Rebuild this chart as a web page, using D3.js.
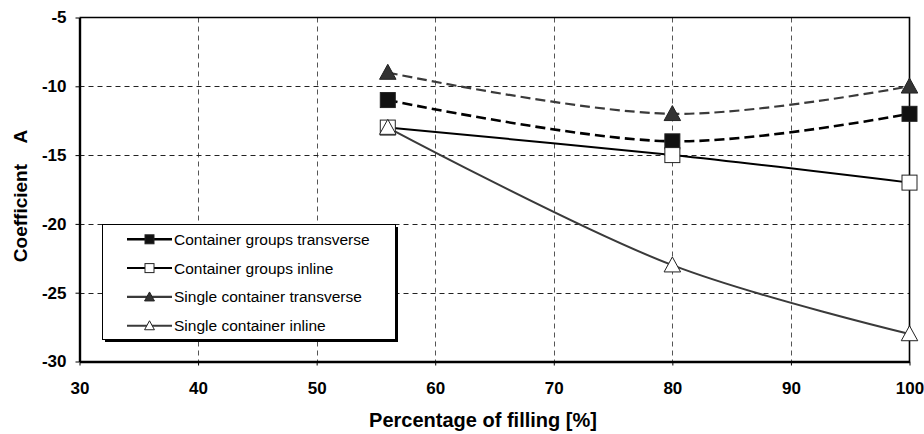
<!DOCTYPE html>
<html>
<head>
<meta charset="utf-8">
<script src="https://cdn.jsdelivr.net/npm/d3@7"></script>
<style>
  html, body { margin: 0; padding: 0; background: #fff; }
  svg { display: block; font-family: "Liberation Sans", Arial, sans-serif; }
</style>
</head>
<body>
<svg id="chart" width="924" height="434"></svg>
<script>
// Filling level (x) and coefficient A for each configuration
const filling = [56, 80, 100];
const groupsTransverse = [-11, -14, -12];
const groupsInline = [-13, -15, -17];
const singleTransverse = [-9, -12, -10];
const singleInline = [-13, -23, -28];

const seriesNames = [
  "Container groups transverse",
  "Container groups inline",
  "Single container transverse",
  "Single container inline"
];

const xTicks = [30, 40, 50, 60, 70, 80, 90, 100];
const yTicks = [-30, -25, -20, -15, -10, -5];

const series = [
  { name: seriesNames[0], values: groupsTransverse, color: "#000", stroke: 2.6, dash: "10,5", marker: "square", fill: "#111" },
  { name: seriesNames[1], values: groupsInline, color: "#000", stroke: 2, dash: null, marker: "square", fill: "#fff" },
  { name: seriesNames[2], values: singleTransverse, color: "#3a3a3a", stroke: 2.2, dash: "10,5", marker: "triangle", fill: "#333" },
  { name: seriesNames[3], values: singleInline, color: "#3a3a3a", stroke: 2, dash: null, marker: "triangle", fill: "#fff" }
];

const svg = d3.select("#chart");
const plot = { left: 79.5, top: 17.5, right: 909.5, bottom: 361.5 };

const x = d3.scaleLinear().domain([30, 100]).range([plot.left, plot.right]);
const y = d3.scaleLinear().domain([-30, -5]).range([plot.bottom, plot.top]);

// Grid lines
const grid = svg.append("g");
grid.selectAll("line.v")
  .data(xTicks.filter(t => t > 30 && t < 100))
  .join("line")
  .attr("x1", d => Math.round(x(d)) + 0.5).attr("x2", d => Math.round(x(d)) + 0.5)
  .attr("y1", plot.top).attr("y2", plot.bottom)
  .attr("stroke", "#555").attr("stroke-width", 1).attr("stroke-dasharray", "5,4");
grid.selectAll("line.h")
  .data(yTicks.filter(t => t > -30 && t < -5))
  .join("line")
  .attr("x1", plot.left).attr("x2", plot.right)
  .attr("y1", d => Math.round(y(d)) + 0.5).attr("y2", d => Math.round(y(d)) + 0.5)
  .attr("stroke", "#222").attr("stroke-width", 1).attr("stroke-dasharray", "5,4");

// Plot frame (top and right)
svg.append("path")
  .attr("d", `M${plot.left},${plot.top}H${plot.right}V${plot.bottom}`)
  .attr("fill", "none").attr("stroke", "#000").attr("stroke-width", 1.6);

// Axes
const fmt = d => String(d);
const xAxis = d3.axisBottom(x).tickValues(xTicks).tickFormat(fmt).tickSize(4).tickSizeOuter(0).tickPadding(16);
const yAxis = d3.axisLeft(y).tickValues(yTicks).tickFormat(fmt).tickSize(4).tickSizeOuter(0).tickPadding(9);

const gx = svg.append("g").attr("transform", `translate(0,${plot.bottom})`).call(xAxis);
const gy = svg.append("g").attr("transform", `translate(${plot.left},0)`).call(yAxis);

[gx, gy].forEach(g => {
  g.select(".domain").attr("stroke", "#000").attr("stroke-width", 2.4);
  g.selectAll(".tick line").attr("stroke", "#000").attr("stroke-width", 1);
  g.selectAll(".tick text")
    .attr("fill", "#000")
    .style("font-family", "'Liberation Sans', Arial, sans-serif")
    .style("font-size", "17px").style("font-weight", "bold");
});

// Axis titles
svg.append("text")
  .attr("x", 483).attr("y", 427)
  .attr("text-anchor", "middle")
  .style("font-size", "20px").style("font-weight", "bold")
  .text("Percentage of filling [%]");
svg.append("text")
  .attr("transform", `translate(27,196) rotate(-90)`)
  .attr("text-anchor", "middle")
  .style("font-size", "19px").style("font-weight", "bold")
  .style("white-space", "pre")
  .attr("xml:space", "preserve")
  .text("Coefficient    A");

// Marker drawing helper
function drawMarker(sel, type, size, fill, stroke) {
  if (type === "square") {
    sel.append("rect")
      .attr("x", -size / 2).attr("y", -size / 2)
      .attr("width", size).attr("height", size)
      .attr("fill", fill).attr("stroke", stroke).attr("stroke-width", 1);
  } else {
    const h = size;
    sel.append("path")
      .attr("d", `M0,${-h * 0.55}L${size * 0.55},${h * 0.45}L${-size * 0.55},${h * 0.45}Z`)
      .attr("fill", fill).attr("stroke", stroke).attr("stroke-width", 1);
  }
}

// Series lines (smoothed) and markers
const line = d3.line().x(d => x(d[0])).y(d => y(d[1])).curve(d3.curveCatmullRom.alpha(0.5));

series.forEach(s => {
  const pts = filling.map((f, i) => [f, s.values[i]]);
  svg.append("path")
    .datum(pts)
    .attr("d", line)
    .attr("fill", "none")
    .attr("stroke", s.color)
    .attr("stroke-width", s.stroke)
    .attr("stroke-dasharray", s.dash);
});

series.forEach(s => {
  const pts = filling.map((f, i) => [f, s.values[i]]);
  svg.append("g").selectAll("g")
    .data(pts)
    .join("g")
    .attr("transform", d => `translate(${x(d[0])},${y(d[1])})`)
    .each(function () { drawMarker(d3.select(this), s.marker, 15, s.fill, "#222"); });
});

// Legend
const legend = { x: 102, y: 224, w: 293, h: 115 };
const lg = svg.append("g");
lg.append("rect")
  .attr("x", legend.x + 3).attr("y", legend.y + 3)
  .attr("width", legend.w).attr("height", legend.h)
  .attr("fill", "#000");
lg.append("rect")
  .attr("x", legend.x + 0.5).attr("y", legend.y + 0.5)
  .attr("width", legend.w).attr("height", legend.h)
  .attr("fill", "#fff").attr("stroke", "#000").attr("stroke-width", 1);

const rows = lg.selectAll("g.row")
  .data(series)
  .join("g")
  .attr("transform", (d, i) => `translate(0,${239.3 + i * 28.8})`);
rows.append("line")
  .attr("x1", 127).attr("x2", 172)
  .attr("stroke", d => d.color)
  .attr("stroke-width", d => d.stroke);
rows.each(function (d) {
  const g = d3.select(this).append("g").attr("transform", "translate(149.5,0)");
  drawMarker(g, d.marker, 9, d.fill, "#222");
});
rows.append("text")
  .attr("x", 174).attr("dy", "0.35em")
  .style("font-size", "15.5px")
  .attr("fill", "#000")
  .text(d => d.name);
</script>
</body>
</html>
